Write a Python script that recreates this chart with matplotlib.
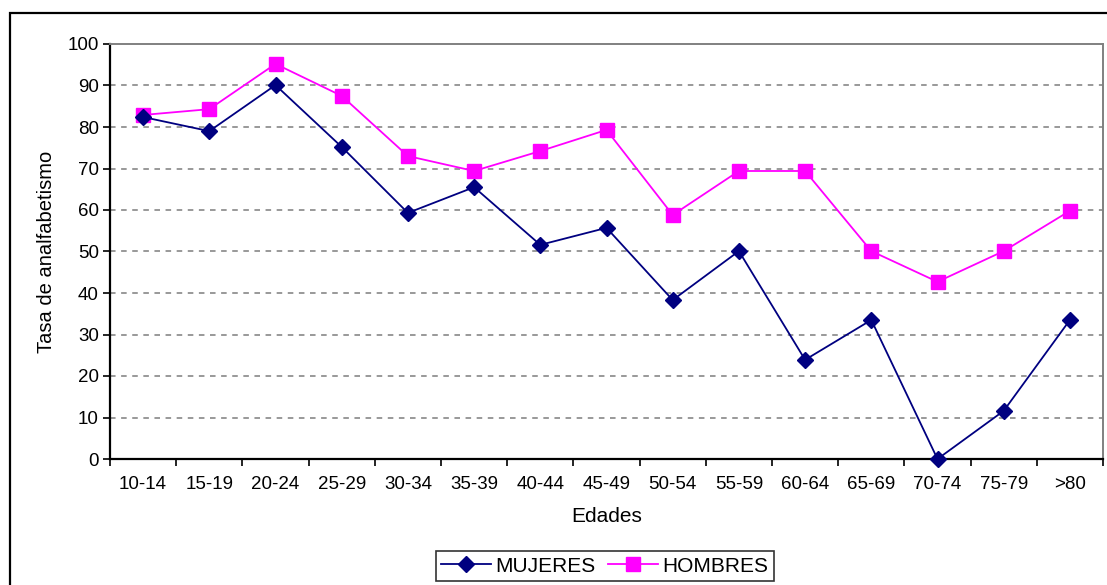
import matplotlib

matplotlib.use("Agg")

import matplotlib.pyplot as plt  # noqa: E402
from matplotlib.patches import Rectangle  # noqa: E402

# --- data ---
edades = ["10-14", "15-19", "20-24", "25-29", "30-34", "35-39", "40-44", "45-49",
          "50-54", "55-59", "60-64", "65-69", "70-74", "75-79", ">80"]
mujeres = [82.4, 79.0, 90.1, 75.2, 59.3, 65.5, 51.6, 55.7,
           38.3, 50.1, 23.9, 33.5, 0.0, 11.6, 33.5]
hombres = [82.9, 84.3, 95.2, 87.5, 73.0, 69.4, 74.2, 79.3,
           58.8, 69.4, 69.4, 50.1, 42.7, 50.1, 59.8]
yticks = list(range(0, 101, 10))

NAVY = "#000080"
MAGENTA = "#FF00FF"

plt.rcParams["font.family"] = ["Liberation Sans", "DejaVu Sans"]
plt.rcParams["lines.scale_dashes"] = False

W, H = 1107, 585
fig = plt.figure(figsize=(W / 100, H / 100), dpi=100)

# outer chart frame (right/bottom edges run off the picture)
fig.patches.append(Rectangle((10 / W, -0.2), 1.2, (H - 13) / H + 0.2,
                             transform=fig.transFigure, fill=False,
                             edgecolor="black", lw=1.6, zorder=0))

x0, x1, ytop, ybot = 110, 1103, 44, 459
ax = fig.add_axes([x0 / W, (H - ybot) / H, (x1 - x0) / W, (ybot - ytop) / H])

xs = list(range(len(edades)))
ax.plot(xs, hombres, color=MAGENTA, lw=1.3, marker="s", ms=9.5,
        mec=MAGENTA, mfc=MAGENTA, label="HOMBRES", zorder=3, clip_on=False)
ax.plot(xs, mujeres, color=NAVY, lw=1.3, marker="D", ms=8.5,
        mec=NAVY, mfc=NAVY, label="MUJERES", zorder=4, clip_on=False)

ax.set_xlim(-0.5, len(edades) - 0.5)
ax.set_ylim(0, 100)
ax.set_yticks(yticks)
ax.set_xticks(xs)
ax.set_xticklabels(edades)
ax.set_xticks([i - 0.5 for i in range(len(edades) + 1)], minor=True)
ax.tick_params(axis="x", which="major", length=0, pad=12, labelsize=13.5)
ax.tick_params(axis="x", which="minor", length=5, width=1.2, direction="out")
ax.tick_params(axis="y", length=5, width=1.2, direction="out", pad=3, labelsize=13.5)

for y in yticks[1:-1]:
    ax.axhline(y, color="#999999", lw=1.4, dashes=(4, 4), zorder=1)

for side in ("left", "bottom"):
    ax.spines[side].set_linewidth(1.6)
    ax.spines[side].set_color("black")
for side in ("top", "right"):
    ax.spines[side].set_linewidth(1.4)
    ax.spines[side].set_color("#808080")

ax.set_xlabel("Edades", fontsize=15, labelpad=10)
ax.set_ylabel("Tasa de analfabetismo", fontsize=14.5, labelpad=8)

h, l = ax.get_legend_handles_labels()
leg = fig.legend(h[::-1], l[::-1], loc="center",
                 bbox_to_anchor=(605 / W, (H - 566) / H), ncol=2,
                 fontsize=15, frameon=True, fancybox=False, handlelength=2.4,
                 handletextpad=0.2, columnspacing=0.6, borderpad=0.25,
                 borderaxespad=0)
leg.get_frame().set_edgecolor("black")
leg.get_frame().set_linewidth(1.2)

fig.savefig("out.png", dpi=100)
